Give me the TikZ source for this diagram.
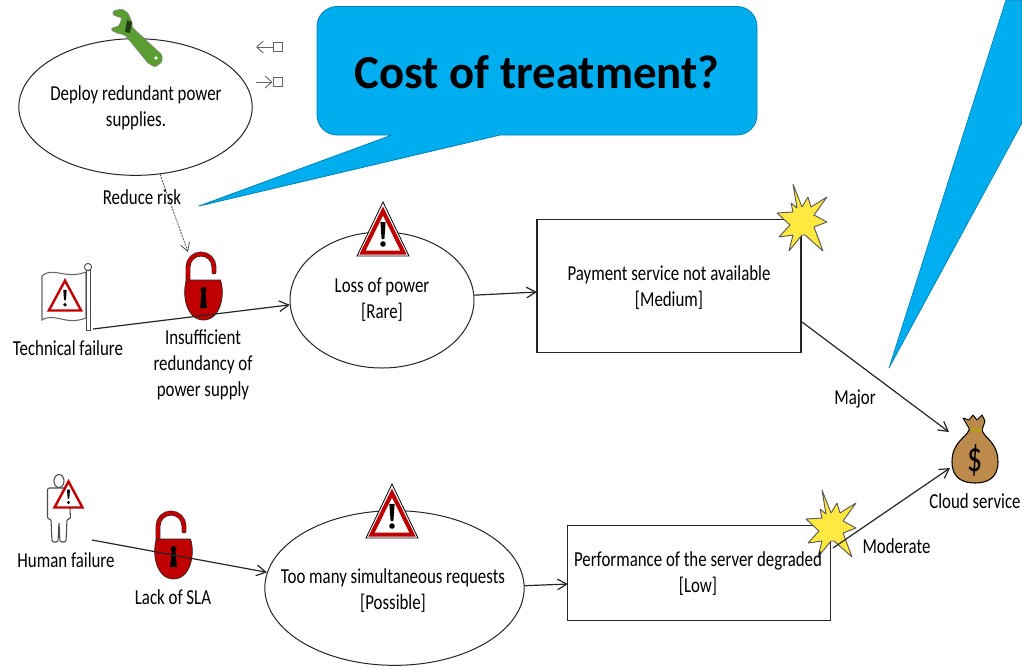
\documentclass[tikz,border=0pt]{standalone}
\usepackage{fontspec}
\setmainfont[FakeStretch=0.79]{Carlito}
\newfontfamily\titlefont[FakeStretch=0.99]{Carlito}
\newfontfamily\dollarfont[FakeStretch=0.7]{Carlito}
\usetikzlibrary{arrows.meta,shapes.geometric}
\definecolor{calloutblue}{HTML}{00ADEF}
\definecolor{lockred}{HTML}{C00000}
\definecolor{starfill}{HTML}{FFE840}
\definecolor{wrenchgreen}{HTML}{5A9E32}
\definecolor{bagbrown}{HTML}{BC8A4A}
\definecolor{inkdark}{HTML}{262626}
\tikzset{
  x=0.75pt,y=-0.75pt,
  lbl/.style={font=\fontsize{16}{19.5}\selectfont,text=black,align=center,inner sep=0pt},
  circ/.style={draw=inkdark,line width=0.75pt,ellipse,fill=white,inner sep=0pt},
  boxnode/.style={draw=inkdark,line width=1pt,fill=white,inner sep=0pt},
  conn/.style={draw=inkdark,line width=0.9pt,-{Straight Barb[length=7pt,width=8pt]}},
  pics/warn/.style={code={
    \draw[draw=black,line width=0.6pt,fill=white,line join=miter] (-26,27)--(0,-27)--(26,27)--cycle;
    \draw[draw=lockred,line width=3pt,line join=miter] (-20.5,23.5)--(0,-18)--(20.5,23.5)--cycle;
    \fill[black] (-2.6,-7)--(2.6,-7)--(1.4,10)--(-1.4,10)--cycle;
    \fill[black] (0,15) circle (2.8);
  }},
  pics/smallwarn/.style={code={
    \draw[draw=lockred,line width=1.8pt,fill=white,line join=miter] (-14,13)--(0,-13)--(14,13)--cycle;
    \fill[black] (-1.5,-5)--(1.5,-5)--(0.8,4)--(-0.8,4)--cycle;
    \fill[black] (0,8) circle (1.6);
  }},
  pics/lockicon/.style={code={
    \draw[draw=inkdark,line width=3.6pt,line cap=round] (-15.5,-11) -- (-15.5,-26) arc[start angle=180,end angle=360,radius=13] -- (10.5,-21);
    \draw[lockred,line width=2.8pt,line cap=round] (-15.5,-11) -- (-15.5,-26) arc[start angle=180,end angle=360,radius=13] -- (10.5,-21);
    \draw[draw=inkdark,line width=0.5pt,fill=lockred] (-17,-13) -- (17,-13) .. controls (22,2) and (17,27) .. (0,27) .. controls (-17,27) and (-22,2) .. (-17,-13) -- cycle;
    \fill[black] (0,-3) circle (3);
    \fill[black] (-1.6,-3) -- (1.6,-3) -- (3.4,15) -- (-3.4,15) -- cycle;
  }},
  pics/burst/.style={code={
    \draw[draw=black!65,line width=0.7pt,fill=starfill,line join=bevel]
      (-10,-35)--(-1,-12)--(5,-22)--(8,-12)--(24,-22)--(11,-4)--(24,3)--(11,8)--(20,32)--(2,16)
      --(-1,16)--(-14,32)--(-10,16)--(-24,18)--(-13,6)--(-26,-6)--(-10,-7)--(-12,-16)--(-6,-11)--cycle;
  }},
  pics/bag/.style={code={
    \draw[draw=black,line width=0.8pt,fill=bagbrown] (-6,-19) .. controls (-9,-11) and (-23,-7) .. (-23,13) .. controls (-23,30) and (-11,34) .. (0,34) .. controls (11,34) and (23,30) .. (23,13) .. controls (23,-7) and (9,-11) .. (7,-19) -- cycle;
    \draw[draw=black,line width=0.7pt,fill=bagbrown,line join=round] (-5,-19) -- (-12,-31) -- (-6,-29) -- (-2,-34) -- (2,-29) -- (7,-34) -- (10,-28) -- (7,-19) -- cycle;
    \draw[draw=olive!70!yellow,line width=1.6pt] (-5,-19) -- (7,-19);
    \node[font=\dollarfont\fontsize{32}{32}\selectfont,text=black,inner sep=0pt] at (0,11) {\$};
  }},
  pics/wrench/.style={code={
    \draw[draw=black!50,line width=0.4pt,fill=wrenchgreen,line join=round,rounded corners=1pt]
      (113,11)--(122,9)--(128,13)--(132,22)--(132,27)--(162,55)--(162,62)--(155,67)--(148,63)--(125,35)--(117,33)--(111,30)--(112,28)--(119,26)--(122,18)--(113,15)--cycle;
    \fill[white] (156,58) circle (1.8);
    \fill[black!30!wrenchgreen!55!black] (127,20)--(132,22)--(130,33)--(125,32)--cycle;
  }},
  pics/flagicon/.style={code={
    \draw[draw=black!60,line width=0.8pt,fill=white] (-23,-24) .. controls (-12,-34) and (0,-20) .. (21,-28) -- (21,18) .. controls (0,26) and (-10,12) .. (-23,20) -- cycle;
    \draw[draw=black!70,line width=0.7pt,fill=white] (21,-30) rectangle (25.5,30);
    \draw[draw=black!70,line width=0.7pt,fill=white] (23,-33) circle (3.6);
  }},
  pics/person/.style={code={
    \draw[draw=black!70,line width=0.8pt,fill=white] (0,-31) ellipse (5 and 6.5);
    \draw[draw=black!70,line width=0.8pt,fill=white,line join=round,rounded corners=1.5pt] (-11.5,-24) -- (10,-24) -- (11.5,7) -- (8,7) -- (7,30) -- (1,30) -- (0,10) -- (-1,30) -- (-7,30) -- (-8,7) -- (-11.5,7) -- cycle;
  }},
}
\begin{document}
\begin{tikzpicture}
\useasboundingbox (0,0) rectangle (1022,669);
\fill[white] (0,0) rectangle (1022,669);

% ellipses and boxes
\node[circ,minimum width=175pt,minimum height=102.5pt] (deploy) at (135.5,107) {};
\node[circ,minimum width=138pt,minimum height=102pt] (power) at (382,300) {};
\node[circ,minimum width=194.5pt,minimum height=116pt] (requests) at (394.5,588) {};
\node[boxnode,minimum width=198pt,minimum height=99.5pt] (payment) at (669,286) {};
\node[boxnode,minimum width=197pt,minimum height=71pt] (perf) at (699,573) {};

% icons as anchors
\coordinate (flag) at (65,300);
\coordinate (person) at (59,512);
\coordinate (lockA) at (203.5,293);
\coordinate (lockB) at (173.5,552);
\coordinate (bag) at (975,449);
\coordinate (techout) at (93,329);
\coordinate (humanout) at (92,540);
\coordinate (dashB) at (188,252);

\pic at (flag) {flagicon};
\pic at (65,295.5) [scale=1.15] {smallwarn};
\pic at (person) {person};
\pic at (68.5,494.5) {smallwarn};
\pic at (lockA) {lockicon};
\pic at (lockB) {lockicon};
\pic at (383,229) {warn};
\pic at (392,511) {warn};
\pic at (803,219) {burst};
\pic at (832,525) {burst};
\pic at (bag) {bag};
\pic at (0,0) {wrench};

% small legend glyphs
\coordinate (inA) at (256,47);
\node[draw=black!60,fill=white,minimum size=6.8pt,inner sep=0pt,line width=0.7pt] (sqA) at (277.5,47) {};
\node[draw=black!60,fill=white,minimum size=6.8pt,inner sep=0pt,line width=0.7pt] (sqB) at (277.5,82) {};
\coordinate (inB) at (256,82);
\draw[draw=black!60,line width=0.7pt,-{Straight Barb[length=5pt,width=9pt]}] (sqA) -- (inA);
\draw[draw=black!60,line width=0.7pt,-{Straight Barb[length=5pt,width=9pt]}] (inB) -- (sqB);

% connectors
\coordinate (payIn) at (537,292);
\coordinate (perfIn) at (568,584);
\coordinate (bagA) at (949,432);
\coordinate (bagB) at (950,468);
\coordinate (payOut) at (802,322);
\coordinate (perfOut) at (833,548);
\draw[conn] (techout) -- (power.183);
\draw[conn] (humanout) -- (requests.173);
\draw[conn] (power.3) -- (payIn);
\draw[conn] (requests.1) -- (perfIn);
\draw[conn] (payOut) -- (bagA);
\draw[conn] (perfOut) -- (bagB);
\draw[draw=black!70,line width=0.6pt,dash pattern=on 1.5pt off 0.8pt,-{Straight Barb[length=6pt,width=7pt]}] (deploy.-70) -- (dashB);

% callouts
\draw[draw=black!25!calloutblue,line width=0.6pt,fill=calloutblue,line join=round]
  (337,6.5) -- (737,6.5) arc[start angle=-90,end angle=0,radius=20] -- (757,115)
  arc[start angle=0,end angle=90,radius=20] -- (500,135) -- (199,206) -- (392,135) -- (337,135)
  arc[start angle=90,end angle=180,radius=20] -- (317,26.5) arc[start angle=180,end angle=270,radius=20] -- cycle;
\node[font=\titlefont\bfseries\fontsize{35.5}{40}\selectfont,text=black,inner sep=0pt] (title) at (537,72) {Cost of treatment?};
\fill[calloutblue,draw=black!25!calloutblue,line width=0.5pt,line join=round] (889,368) -- (1006,0) -- (1022,0) -- (1022,123) -- cycle;

% labels
\node[lbl] (t1) at (136,108) {Deploy redundant power\\supplies.};
\node[lbl] (t2) at (142,197) {Reduce risk};
\node[lbl] (t3) at (68,348) {Technical failure};
\node[lbl] (t4) at (203,365) {Insufficient\\redundancy of\\power supply};
\node[lbl] (t5) at (382,299.5) {Loss of power\\{[Rare]}};
\node[lbl] (t6) at (669,287.5) {Payment service not available\\{[Medium]}};
\node[lbl] (t7) at (855,399) {Major};
\node[lbl] (t8) at (975,501) {Cloud service};
\node[lbl] (t9) at (896.5,546) {Moderate};
\node[lbl] (t10) at (66,560) {Human failure};
\node[lbl] (t11) at (173,597) {Lack of SLA};
\node[lbl] (t12) at (393,591) {Too many simultaneous requests\\{[Possible]}};
\node[lbl] (t13) at (698,574) {Performance of the server degraded\\{[Low]}};
\end{tikzpicture}
\end{document}
